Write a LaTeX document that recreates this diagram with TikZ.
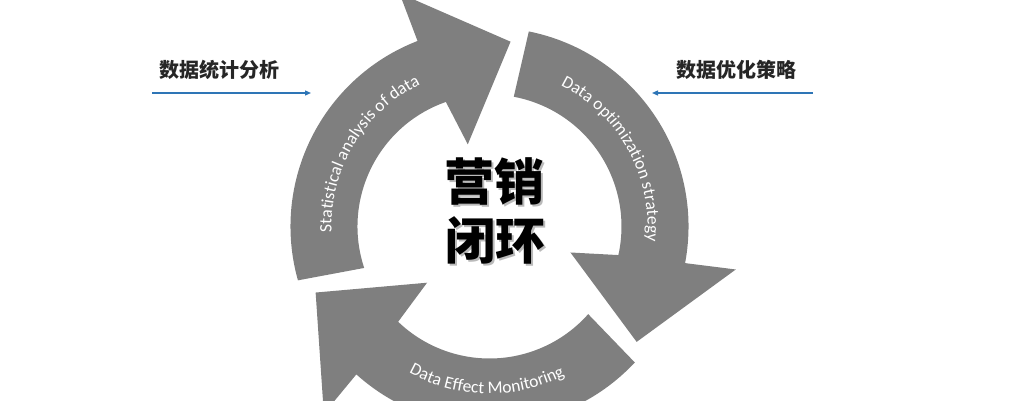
\documentclass[tikz,border=0pt]{standalone}
\usepackage{fontspec}
\newfontfamily\cjk{Noto Sans CJK SC}
\newfontfamily\carl{Carlito}
\usetikzlibrary{arrows.meta,decorations.text}
\definecolor{ringgray}{HTML}{7F7F7F}
\definecolor{lineblue}{HTML}{2E75B6}
\begin{document}
\begin{tikzpicture}[x=1pt,y=1pt,
  ringarrow/.style={fill=ringgray},
  sidelabel/.style={font=\cjk\bfseries\fontsize{20}{24}\selectfont, text=black!85, inner sep=0pt},
  blueline/.style={draw=lineblue, line width=1.3pt, -{Triangle[length=6pt,width=5pt]}},
  titletxt/.style={font=\cjk\bfseries\fontsize{50}{56}\selectfont, text=black, inner sep=0pt},
  titleshadow/.style={font=\cjk\bfseries\fontsize{50}{56}\selectfont, text=black!45, opacity=0.6, inner sep=0pt}]
\useasboundingbox (0,0) rectangle (1009,400);
\clip (0,0) rectangle (1009,400);
\coordinate (C) at (489.5,173.5);

% left arrow (Statistical analysis of data)
\fill[ringarrow] ([shift={(195.7:199pt)}]C) arc[start angle=195.7, end angle=111.2, radius=199pt]
  -- ([shift={(111.1:250pt)}]C) -- ([shift={(83.5:186pt)}]C) -- ([shift={(104.8:85pt)}]C)
  -- ([shift={(109.3:132pt)}]C) arc[start angle=109.3, end angle=198.3, radius=132pt] -- cycle;
% right arrow (Data optimization strategy)
\fill[ringarrow] ([shift={(78.6:199pt)}]C) arc[start angle=78.6, end angle=-10.6, radius=199pt]
  -- ([shift={(-9.9:250pt)}]C) -- ([shift={(-38.1:187pt)}]C) -- ([shift={(-17.8:85pt)}]C)
  -- ([shift={(-12.5:132pt)}]C) arc[start angle=-12.5, end angle=79.4, radius=132pt] -- cycle;
% bottom arrow (Data Effect Monitoring)
\fill[ringarrow] ([shift={(-43.1:199pt)}]C) arc[start angle=-43.1, end angle=-132, radius=199pt]
  -- ([shift={(-131.5:250pt)}]C) -- ([shift={(-159.2:186pt)}]C) -- ([shift={(-138:84pt)}]C)
  -- ([shift={(-133.8:132pt)}]C) arc[start angle=-133.8, end angle=-41.6, radius=132pt] -- cycle;

% curved texts
\path[decorate, decoration={text along path, text align=center,
  text={|\carl\fontsize{17.5}{20}\selectfont\color{white}|Statistical analysis of data}}]
  ([shift={(194:158pt)}]C) arc[start angle=194, end angle=104, radius=158pt];
\path[decorate, decoration={text along path, text align=center,
  text={|\carl\fontsize{17.5}{20}\selectfont\color{white}|Data optimization strategy}}]
  ([shift={(74:158pt)}]C) arc[start angle=74, end angle=-16, radius=158pt];
\path[decorate, decoration={text along path, text align=center,
  text={|\carl\fontsize{17.5}{20}\selectfont\color{white}|Data Effect Monitoring}}]
  ([shift={(-136:167pt)}]C) arc[start angle=-136, end angle=-46, radius=167pt];

% centre title with shadow
\node[titleshadow] (t1s) at (496.5,217) {营销};
\node[titleshadow] (t2s) at (497.5,158) {闭环};
\node[titletxt] (t1) at (494.5,219) {营销};
\node[titletxt] (t2) at (495.5,160) {闭环};

% side labels and blue arrows
\node[sidelabel] (lab1) at (219,330) {数据统计分析};
\node[sidelabel] (lab2) at (736,330) {数据优化策略};
\coordinate (a1s) at (152,307);
\coordinate (a1e) at (311,307);
\coordinate (a2s) at (813,307);
\coordinate (a2e) at (652,307);
\draw[blueline] (a1s) -- (a1e);
\draw[blueline] (a2s) -- (a2e);
\end{tikzpicture}
\end{document}
